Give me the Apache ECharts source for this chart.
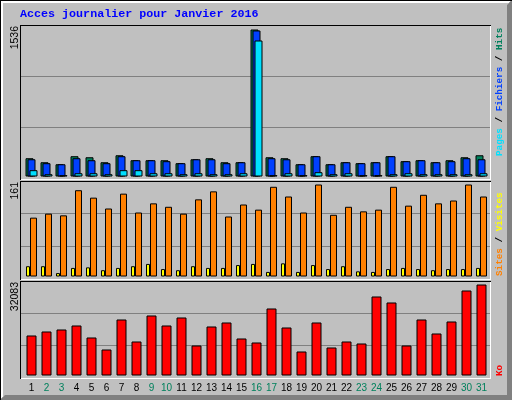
<!DOCTYPE html>
<html><head><meta charset="utf-8">
<script src="https://cdn.jsdelivr.net/npm/echarts@6/dist/echarts.min.js"></script>
<style>html,body{margin:0;padding:0;background:#c0c0c0}#c{width:512px;height:400px}</style>
</head><body><div id="c"></div>
<script>
const days = ['1','2','3','4','5','6','7','8','9','10','11','12','13','14','15','16','17','18','19','20','21','22','23','24','25','26','27','28','29','30','31'];
const weekendDays = ['2','3','9','10','16','17','23','24','30','31'];
const hits  = [191,149,128,212,201,149,222,170,170,170,139,180,191,149,149,1536,201,191,128,212,128,149,139,149,212,160,170,149,170,201,222];
const files = [180,139,128,191,170,139,212,170,170,160,139,180,180,139,149,1526,191,180,128,212,128,149,139,149,212,160,170,149,160,191,180];
const pages = [66,24,14,34,34,24,66,66,34,34,24,34,24,24,34,1421,14,34,14,45,24,34,14,14,24,34,24,24,24,24,34];
const sites = [103,110,107,151,138,119,145,112,128,122,110,135,149,105,126,117,157,140,112,161,108,122,114,117,157,124,143,128,133,161,140];
const visits = [18,18,6,15,16,11,15,18,22,13,11,18,15,15,20,22,8,23,8,20,13,18,9,8,13,15,13,11,13,13,15];
const kbytes = [14104,15514,16220,17630,13399,9168,19746,11988,21156,17630,20451,10578,17278,18688,13046,11636,23624,16925,8462,18688,9873,11988,11283,27855,25740,10578,19746,14809,19040,29971,32083];
const titleText = 'Acces journalier pour Janvier 2016';

const C = {hits:'#00805C', files:'#0040FF', pages:'#00E0FF', sites:'#FF8000', visits:'#FFFF00', kb:'#FF0000'};
const maxHits = Math.max(...hits), maxSites = Math.max(...sites), maxKb = Math.max(...kbytes);

const chart = echarts.init(document.getElementById('c'), null, {renderer:'canvas'});
const G = [];
function line(x1,y1,x2,y2,color,z){G.push({type:'line',z:z||0,silent:true,shape:{x1,y1,x2,y2},style:{stroke:color,lineWidth:1}});}
// outer frame bevels
G.push({type:'polygon',z:0,silent:true,shape:{points:[[512,0],[512,400],[0,400],[5,395],[507,395],[507,5]]},style:{fill:'#808080'}});
line(0,0.5,512,0.5,'#000'); line(0.5,0,0.5,400,'#000');
line(1,1.5,510,1.5,'#fff'); line(1,2.5,509,2.5,'#fff');
line(1.5,1,1.5,398,'#fff'); line(2.5,1,2.5,397,'#fff');
// panels
const panels = [[25,179],[181,279],[281,378]];
panels.forEach(([t,b])=>{
  const h = b - t;
  line(21, Math.floor(t + h/3)+0.5, 490, Math.floor(t + h/3)+0.5, '#808080');
  line(21, Math.floor(t + 2*h/3)+0.5, 490, Math.floor(t + 2*h/3)+0.5, '#808080');
  line(20, t+0.5, 491, t+0.5, '#000', 5);
  line(20.5, t, 20.5, b+1, '#000', 5);
  line(21, b+0.5, 491, b+0.5, '#fff', 5);
  line(490.5, t+1, 490.5, b+1, '#fff', 5);
});
function vtext(x, y, text, align, font, rich, fill){
  const o = {type:'text',z:5,silent:true,x:x,y:y,rotation:Math.PI/2,
    style:{text:text,font:font,fill:fill||'#000',align:align,verticalAlign:'middle'}};
  if (rich) o.style.rich = rich;
  G.push(o);
}
const legFont = 'bold 9.3px "Liberation Mono"';
const rs = c => ({fill:c, font:legFont});
vtext(500, 156, '{p|Pages}{s| / }{f|Fichiers}{s| / }{h|Hits}', 'left', legFont, {p:rs(C.pages),s:rs('#000'),f:rs(C.files),h:rs(C.hits)});
vtext(500, 276, '{a|Sites}{s| / }{b|Visites}', 'left', legFont, {a:rs(C.sites),s:rs('#000'),b:rs(C.visits)});
vtext(500, 376, 'Ko', 'left', legFont, null, C.kb);
const yFont = '10.5px "Liberation Sans"';
vtext(15, 26, String(maxHits), 'right', yFont);
vtext(15, 182, String(maxSites), 'right', yFont);
vtext(15, 282, String(maxKb), 'right', yFont);
G.push({type:'text',z:5,silent:true,x:20,y:14,style:{text:titleText,font:'bold 11.7px "Liberation Mono"',fill:'#0000FF',align:'left',verticalAlign:'middle'}});

const grids = [
  {left:24, width:465, top:29.5, height:147},
  {left:24, width:465, top:184.5, height:92},
  {left:24, width:465, top:284.5, height:91}
];
const xAxes = grids.map((g,i)=>({type:'category',gridIndex:i,data:days,boundaryGap:true,
  axisLine:{show:false},axisTick:{show:false},splitLine:{show:false},
  axisLabel:{show:i===2,interval:0,margin:8,fontFamily:'Liberation Sans',fontSize:10,
    color:(v)=>weekendDays.indexOf(v)>=0?C.hits:'#000'}}));
const yMax = [maxHits, maxSites, maxKb];
const yAxes = grids.map((g,i)=>({type:'value',gridIndex:i,min:0,max:yMax[i],show:false,splitLine:{show:false}}));
const bs = (color) => ({color:color,borderColor:'#000',borderWidth:1});
const series = [
  {type:'bar',name:'Hits',xAxisIndex:0,yAxisIndex:0,data:hits,barWidth:8,itemStyle:bs(C.hits)},
  {type:'bar',name:'Fichiers',xAxisIndex:0,yAxisIndex:0,data:files,barWidth:8,itemStyle:bs(C.files)},
  {type:'bar',name:'Pages',xAxisIndex:0,yAxisIndex:0,data:pages,barWidth:8,barGap:'-75%',itemStyle:bs(C.pages)},
  {type:'bar',name:'Visites',xAxisIndex:1,yAxisIndex:1,data:visits,barWidth:4,itemStyle:bs(C.visits)},
  {type:'bar',name:'Sites',xAxisIndex:1,yAxisIndex:1,data:sites,barWidth:7,barGap:'0%',itemStyle:bs(C.sites)},
  {type:'bar',name:'Ko',xAxisIndex:2,yAxisIndex:2,data:kbytes,barWidth:10,itemStyle:bs(C.kb)}
];
chart.setOption({animation:false,backgroundColor:'#C0C0C0',grid:grids,xAxis:xAxes,yAxis:yAxes,series:series,graphic:{elements:G}});
</script></body></html>
